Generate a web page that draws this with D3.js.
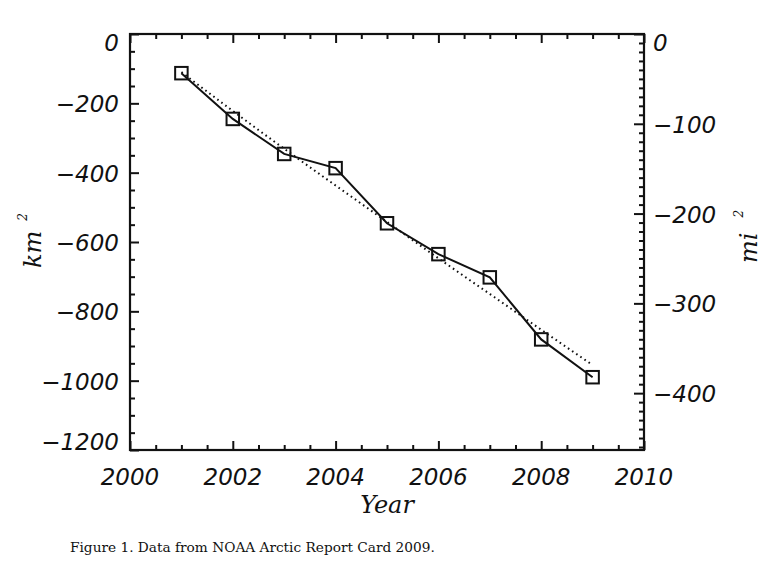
<!DOCTYPE html>
<html><head><meta charset="utf-8">
<script src="https://cdn.jsdelivr.net/npm/d3@7"></script>
<style>
html,body{margin:0;padding:0;background:#fff;}
svg{display:block;}
.num{font-family:"DejaVu Sans";font-style:oblique;font-size:23px;fill:#111;}
.ttl{font-family:"DejaVu Serif";font-style:italic;font-size:24px;fill:#111;}
.cap{font-family:"DejaVu Serif";font-size:13.7px;fill:#111;}
</style></head>
<body>
<script>
// ---- data ----
const years = [2001, 2002, 2003, 2004, 2005, 2006, 2007, 2008, 2009];
const areaKm2 = [-113, -245, -346, -387, -546, -635, -702, -881, -990];
const trendKm2 = [-110, -222, -331, -437, -542, -647, -750, -853, -955];
const xTicks = [2000, 2002, 2004, 2006, 2008, 2010];
const yTicksKm2 = [0, -200, -400, -600, -800, -1000, -1200];
const yTicksMi2 = [0, -100, -200, -300, -400];
const km2ToMi2 = 0.3861;

const W = 780, H = 579;
const L = 130, R = 644, T = 34, B = 450;

const svg = d3.select("body").append("svg").attr("width", W).attr("height", H);

const x = d3.scaleLinear().domain([2000, 2010]).range([L, R]);
const y = d3.scaleLinear().domain([-1200, 0]).range([B, T]);
const y2 = d3.scaleLinear().domain([-1200 * km2ToMi2, 0]).range([B, T]);

const fmt = d3.format("d");
const minus = v => (v < 0 ? "\u2212" + fmt(-v) : fmt(v));

function styleAxis(g) {
  g.select(".domain").remove();
  g.selectAll("line").attr("stroke", "#111").attr("stroke-width", 2);
  g.selectAll("text").remove();
}
const MAJ = 9, MIN = 5;
const xMinor = d3.range(2000, 2010.01, 0.5).filter(v => v % 2 !== 0);
const yMinor = d3.range(-1200, 1, 50).filter(v => v % 200 !== 0);
const y2Minor = d3.range(-460, 1, 10).filter(v => v % 100 !== 0);

// bottom
svg.append("g").attr("transform", `translate(0,${B})`)
  .call(d3.axisTop(x).tickValues(xTicks).tickSize(MAJ)).call(styleAxis);
svg.append("g").attr("transform", `translate(0,${B})`)
  .call(d3.axisTop(x).tickValues(xMinor).tickSize(MIN)).call(styleAxis);
// top
svg.append("g").attr("transform", `translate(0,${T})`)
  .call(d3.axisBottom(x).tickValues(xTicks).tickSize(MAJ)).call(styleAxis);
svg.append("g").attr("transform", `translate(0,${T})`)
  .call(d3.axisBottom(x).tickValues(xMinor).tickSize(MIN)).call(styleAxis);
// left
svg.append("g").attr("transform", `translate(${L},0)`)
  .call(d3.axisRight(y).tickValues(yTicksKm2).tickSize(MAJ)).call(styleAxis);
svg.append("g").attr("transform", `translate(${L},0)`)
  .call(d3.axisRight(y).tickValues(yMinor).tickSize(MIN)).call(styleAxis);
// right
svg.append("g").attr("transform", `translate(${R},0)`)
  .call(d3.axisLeft(y2).tickValues(yTicksMi2).tickSize(MAJ + 1)).call(styleAxis);
svg.append("g").attr("transform", `translate(${R},0)`)
  .call(d3.axisLeft(y2).tickValues(y2Minor).tickSize(MIN)).call(styleAxis);

// frame
svg.append("rect").attr("x", L).attr("y", T).attr("width", R - L).attr("height", B - T)
  .attr("fill", "none").attr("stroke", "#111").attr("stroke-width", 2.2);

// labels
const clampY = v => Math.max(T + 17, Math.min(B, v + 9));
svg.append("g").selectAll("text").data(yTicksKm2).join("text")
  .attr("class", "num").attr("text-anchor", "end")
  .attr("x", L - 11).attr("y", d => clampY(y(d))).text(minus);
svg.append("g").selectAll("text").data(yTicksMi2).join("text")
  .attr("class", "num").attr("text-anchor", "start")
  .attr("x", R + 9).attr("y", d => clampY(y2(d))).text(minus);
svg.append("g").selectAll("text").data(xTicks).join("text")
  .attr("class", "num").attr("text-anchor", "middle")
  .attr("x", d => x(d)).attr("y", 485).text(minus);

svg.append("text").attr("class", "ttl").attr("text-anchor", "middle")
  .attr("x", (L + R) / 2).attr("y", 513).text("Year");

const kmT = svg.append("text").attr("class", "ttl")
  .attr("transform", "translate(41,268) rotate(-90)");
kmT.append("tspan").text("km");
kmT.append("tspan").attr("dx", 10).attr("dy", -14).attr("font-size", 12).text("2");

const miT = svg.append("text").attr("class", "ttl")
  .attr("transform", "translate(757,263) rotate(-90)");
miT.append("tspan").text("mi");
miT.append("tspan").attr("dx", 15).attr("dy", -14).attr("font-size", 12).text("2");

// trend (dotted)
const trendLine = d3.line().x((d, i) => x(years[i])).y(d => y(d)).curve(d3.curveNatural);
svg.append("path").attr("d", trendLine(trendKm2))
  .attr("fill", "none").attr("stroke", "#111").attr("stroke-width", 2)
  .attr("stroke-dasharray", "1.6,3.4");

// data line
const line = d3.line().x((d, i) => x(years[i])).y(d => y(d));
svg.append("path").attr("d", line(areaKm2))
  .attr("fill", "none").attr("stroke", "#111").attr("stroke-width", 2);

const S = 12.5;
svg.append("g").selectAll("rect").data(areaKm2).join("rect")
  .attr("x", (d, i) => x(years[i]) - S / 2).attr("y", d => y(d) - S / 2)
  .attr("width", S).attr("height", S)
  .attr("fill", "none").attr("stroke", "#111").attr("stroke-width", 2);

svg.append("text").attr("class", "cap").attr("x", 70).attr("y", 552)
  .text("Figure 1. Data from NOAA Arctic Report Card 2009.");
</script>
</body></html>
